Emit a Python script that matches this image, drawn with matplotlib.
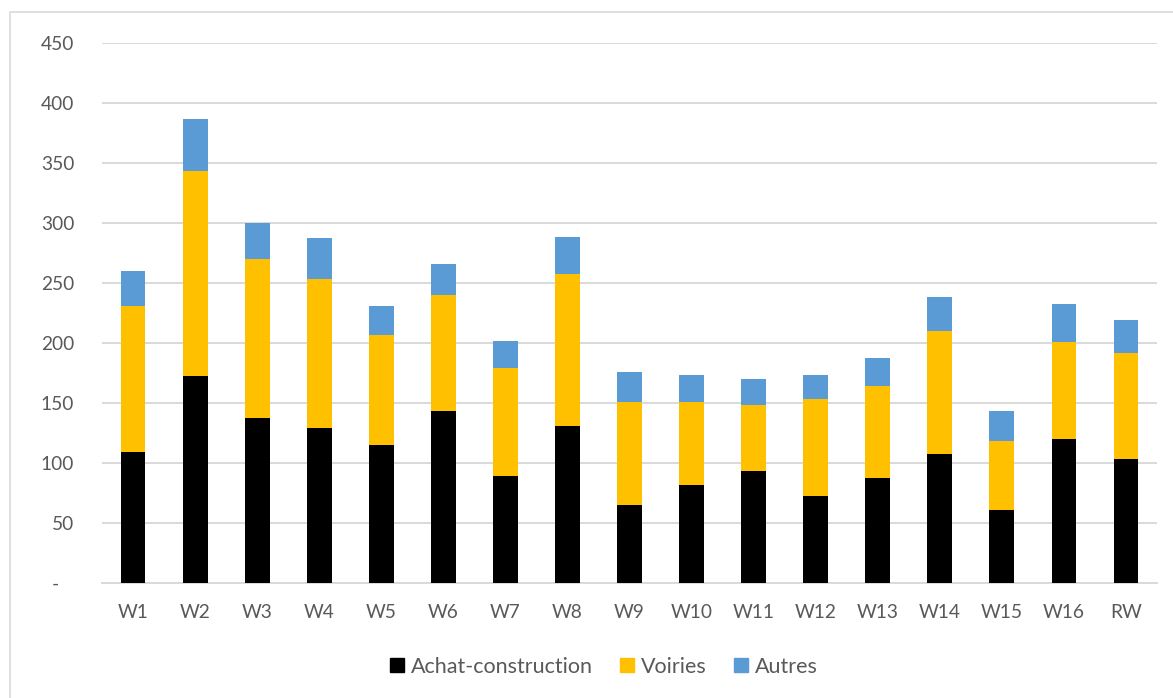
import matplotlib
matplotlib.use("Agg")
import matplotlib.pyplot as plt
import numpy as np
from matplotlib.patches import Rectangle
from matplotlib.lines import Line2D

categories = ["W1", "W2", "W3", "W4", "W5", "W6", "W7", "W8", "W9", "W10",
              "W11", "W12", "W13", "W14", "W15", "W16", "RW"]
achat = [109.2, 172.2, 137.2, 128.9, 115.0, 142.8, 88.9, 130.6, 64.7, 81.4,
         93.4, 72.2, 87.5, 107.0, 60.3, 119.5, 103.3]
voiries = [121.6, 170.8, 132.8, 123.9, 91.4, 96.7, 90.3, 126.9, 85.9, 69.2,
           54.4, 80.6, 76.4, 102.8, 57.7, 80.8, 88.1]
autres = [29.2, 43.4, 29.7, 34.4, 24.2, 26.1, 22.2, 30.9, 25.2, 22.2,
          21.7, 20.2, 23.3, 28.2, 25.0, 31.9, 27.5]
series_names = ["Achat-construction", "Voiries", "Autres"]
yticks = [0, 50, 100, 150, 200, 250, 300, 350, 400, 450]
ytick_labels = ["-   ", "50", "100", "150", "200", "250", "300", "350", "400", "450"]

colors = ["#000000", "#FFC000", "#5B9BD5"]
text_color = "#595959"
grid_color = "#D9D9D9"

plt.rcParams['font.family'] = ['Lato', 'DejaVu Sans']

W, H = 1173, 698
fig = plt.figure(figsize=(W / 100, H / 100), dpi=100)
ax = fig.add_axes([102 / W, 1 - 582.7 / H, (1157 - 102) / W, (582.7 - 42.7) / H])

x = np.arange(len(categories))
a = np.array(achat)
v = np.array(voiries)
o = np.array(autres)
bw = 0.4
ax.bar(x, a, width=bw, color=colors[0], zorder=3)
ax.bar(x, v, width=bw, bottom=a, color=colors[1], zorder=3)
ax.bar(x, o, width=bw, bottom=a + v, color=colors[2], zorder=3)

ax.set_xlim(-0.5, len(categories) - 0.5)
ax.set_ylim(0, 450)
ax.set_yticks(yticks)
ax.set_yticklabels(ytick_labels)
ax.set_xticks(x)
ax.set_xticklabels(categories)
ax.tick_params(axis='both', length=0, labelsize=13.8, colors=text_color)
ax.tick_params(axis='y', pad=20)
ax.tick_params(axis='x', pad=15)
ax.yaxis.grid(True, color=grid_color, linewidth=1.4, zorder=0)
ax.set_axisbelow(True)
for s in ["top", "right", "left"]:
    ax.spines[s].set_visible(False)
ax.spines["bottom"].set_color(grid_color)
ax.spines["bottom"].set_linewidth(1.4)

handles = [Line2D([0], [0], marker='s', linestyle='none', markersize=9.5,
                  markerfacecolor=c, markeredgecolor=c) for c in colors]
leg = fig.legend(handles, series_names, loc='center', bbox_to_anchor=(602 / W, 1 - 667 / H),
                 ncol=3, frameon=False, fontsize=15.5, handletextpad=0.15,
                 columnspacing=1.1, handlelength=1.0)
for t in leg.get_texts():
    t.set_color(text_color)

# chart border
fig.patches.append(Rectangle((10 / W, -0.01), 1.2, 1 - 12 / H + 0.01, transform=fig.transFigure,
                             fill=False, edgecolor=grid_color, linewidth=1.2))

fig.savefig("out.png", dpi=100, facecolor="white")
